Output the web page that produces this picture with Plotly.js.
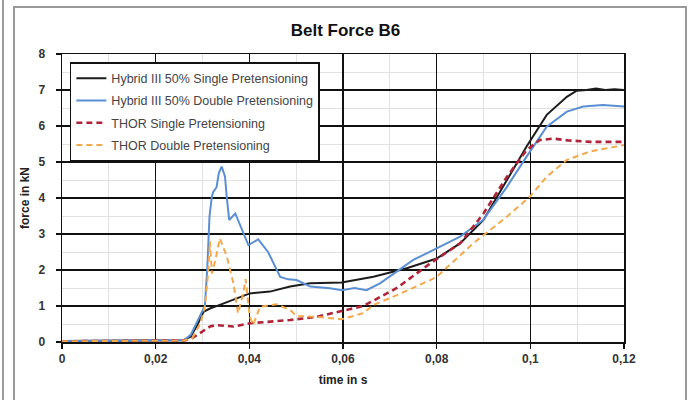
<!DOCTYPE html>
<html>
<head>
<meta charset="utf-8">
<script src="https://cdn.plot.ly/plotly-3.0.1.min.js"></script>
<style>
  html, body { margin: 0; padding: 0; background: #fff; }
  #wrap { position: relative; width: 691px; height: 400px; overflow: hidden; }
  #chart { position: absolute; left: 0; top: 0; width: 691px; height: 400px; }
  .frame { position: absolute; background: #9a9a9a; pointer-events: none; }
</style>
</head>
<body>
<div id="wrap">
  <div id="chart"></div>
  <!-- grey panel outline around the chart -->
  <div class="frame" style="left:2px;top:0;width:2px;height:400px;"></div>
  <div class="frame" style="left:13px;top:6px;width:2px;height:394px;"></div>
  <div class="frame" style="left:13px;top:6px;width:673px;height:2px;"></div>
  <div class="frame" style="left:685px;top:6px;width:2px;height:394px;"></div>
</div>
<script>
// Belt force B6 over time, four dummy / pretensioning configurations
const seriesNames = [
  'Hybrid III 50% Single Pretensioning',
  'Hybrid III 50% Double Pretensioning',
  'THOR Single Pretensioning',
  'THOR Double Pretensioning'
];

const timeHybridSingle = [0, 0.01, 0.02, 0.026, 0.0275, 0.029, 0.0302, 0.0316, 0.0337, 0.0373, 0.0401, 0.0444, 0.0487, 0.053, 0.0597, 0.0665, 0.0736, 0.08, 0.085, 0.09, 0.095, 0.0992, 0.1035, 0.1078, 0.1099, 0.112, 0.114, 0.116, 0.118, 0.12];
const forceHybridSingle = [0.03, 0.03, 0.04, 0.05, 0.15, 0.5, 0.84, 0.93, 1.03, 1.21, 1.35, 1.4, 1.54, 1.63, 1.65, 1.81, 2.05, 2.32, 2.74, 3.39, 4.5, 5.43, 6.31, 6.81, 6.98, 7.0, 7.04, 7.0, 7.02, 7.0];

const timeHybridDouble = [0, 0.01, 0.02, 0.026, 0.0275, 0.029, 0.0305, 0.031, 0.0315, 0.032, 0.0323, 0.033, 0.0335, 0.0341, 0.0348, 0.0352, 0.0357, 0.037, 0.0385, 0.0398, 0.0419, 0.044, 0.0466, 0.0483, 0.0501, 0.053, 0.0572, 0.0597, 0.0625, 0.065, 0.0679, 0.0718, 0.075, 0.0786, 0.085, 0.0899, 0.095, 0.0992, 0.1035, 0.1078, 0.1113, 0.1155, 0.12];
const forceHybridDouble = [0.03, 0.03, 0.04, 0.05, 0.2, 0.6, 1.0, 2.0, 3.5, 4.04, 4.17, 4.3, 4.7, 4.87, 4.6, 4.0, 3.39, 3.57, 3.1, 2.69, 2.85, 2.5, 1.81, 1.74, 1.72, 1.54, 1.49, 1.44, 1.5, 1.44, 1.63, 2.0, 2.28, 2.51, 2.93, 3.39, 4.31, 5.15, 5.98, 6.4, 6.54, 6.58, 6.54];

const timeThorSingle = [0, 0.01, 0.02, 0.026, 0.0275, 0.0295, 0.0316, 0.033, 0.0366, 0.0401, 0.0437, 0.0487, 0.0544, 0.0597, 0.0643, 0.0665, 0.0715, 0.0786, 0.085, 0.09, 0.095, 0.0992, 0.102, 0.105, 0.108, 0.1127, 0.12];
const forceThorSingle = [0.02, 0.02, 0.03, 0.04, 0.08, 0.24, 0.43, 0.47, 0.43, 0.52, 0.56, 0.61, 0.7, 0.86, 1.0, 1.15, 1.5, 2.18, 2.74, 3.57, 4.59, 5.33, 5.61, 5.65, 5.6, 5.56, 5.56];

const timeThorDouble = [0, 0.01, 0.02, 0.026, 0.0278, 0.0295, 0.0305, 0.0312, 0.0316, 0.032, 0.0328, 0.0337, 0.0352, 0.0366, 0.0376, 0.0387, 0.0392, 0.0401, 0.0408, 0.0423, 0.0458, 0.0487, 0.0501, 0.0544, 0.0597, 0.0643, 0.0665, 0.0715, 0.0786, 0.08, 0.0878, 0.095, 0.0999, 0.1035, 0.1078, 0.1127, 0.12];
const forceThorDouble = [0.02, 0.02, 0.03, 0.04, 0.1, 0.5, 0.98, 1.92, 2.8, 1.9, 2.3, 2.88, 2.37, 1.63, 0.8, 1.35, 1.75, 0.7, 0.47, 0.98, 1.05, 0.89, 0.72, 0.7, 0.63, 0.8, 1.03, 1.3, 1.72, 1.81, 2.74, 3.48, 4.04, 4.59, 5.06, 5.29, 5.47];

const seriesColors = ['#1c1c1c', '#5b8fd3', '#b0243a', '#f2a94c'];

const traces = [
  { x: timeHybridSingle, y: forceHybridSingle, name: seriesNames[0], legendgroup: 'a',
    line: { color: seriesColors[0], width: 2 } },
  { x: timeHybridDouble, y: forceHybridDouble, name: seriesNames[1], legendgroup: 'b',
    line: { color: seriesColors[1], width: 2 } },
  { x: timeThorSingle, y: forceThorSingle, name: seriesNames[2], legendgroup: 'c',
    line: { color: seriesColors[2], width: 2.6, dash: '6px,4px' } },
  { x: timeThorDouble, y: forceThorDouble, name: seriesNames[3], legendgroup: 'd',
    line: { color: seriesColors[3], width: 2, dash: '6px,4px' } }
].map(t => Object.assign({ type: 'scatter', mode: 'lines' }, t));

const tickFont = { family: 'Liberation Sans, Arial, sans-serif', size: 12, color: '#333', weight: 'bold' };

const layout = {
  width: 691, height: 400,
  margin: { l: 62, r: 67, t: 54, b: 58 },
  paper_bgcolor: 'rgba(0,0,0,0)',
  plot_bgcolor: '#fff',
  separators: ',.',
  showlegend: true,
  title: {
    text: 'Belt Force B6',
    font: { family: 'Liberation Sans Narrow, Liberation Sans, Arial, sans-serif', size: 17, color: '#111', weight: 'bold' },
    x: 0.5, xanchor: 'center', y: 0.925, yanchor: 'middle'
  },
  xaxis: {
    range: [0, 0.12], dtick: 0.02, tick0: 0,
    showgrid: true, gridcolor: '#111', gridwidth: 1.5,
    zeroline: false, showline: true, linecolor: '#111', linewidth: 1.5, mirror: true,
    ticks: 'outside', ticklen: 5, tickcolor: '#111', tickwidth: 1.5,
    tickfont: tickFont,
    minor: { dtick: 0.01, showgrid: true, gridcolor: '#e2e2e2', gridwidth: 1 },
    title: { text: 'time in s', font: { family: 'Liberation Sans, Arial, sans-serif', size: 12, color: '#222', weight: 'bold' }, standoff: 10 }
  },
  yaxis: {
    range: [0, 8], dtick: 1, tick0: 0,
    showgrid: true, gridcolor: '#111', gridwidth: 1.5,
    zeroline: false, showline: true, linecolor: '#111', linewidth: 1.5, mirror: true,
    ticks: 'outside', ticklen: 5, tickcolor: '#111', tickwidth: 1.5,
    ticklabelstandoff: 8,
    tickfont: tickFont,
    minor: { dtick: 0.5, showgrid: true, gridcolor: '#e2e2e2', gridwidth: 1 },
    title: { text: 'force in kN', font: { family: 'Liberation Sans, Arial, sans-serif', size: 12, color: '#222', weight: 'bold' }, standoff: 6 }
  },
  legend: {
    x: 0.014, y: 0.972, xanchor: 'left', yanchor: 'top',
    bgcolor: '#fff', bordercolor: '#111', borderwidth: 1.5,
    font: { family: 'Liberation Sans, Arial, sans-serif', size: 12.5, color: '#444' },
    traceorder: 'grouped', tracegroupgap: 3, itemwidth: 30
  }
};

Plotly.newPlot('chart', traces, layout, { staticPlot: true, displayModeBar: false });
</script>
</body>
</html>
